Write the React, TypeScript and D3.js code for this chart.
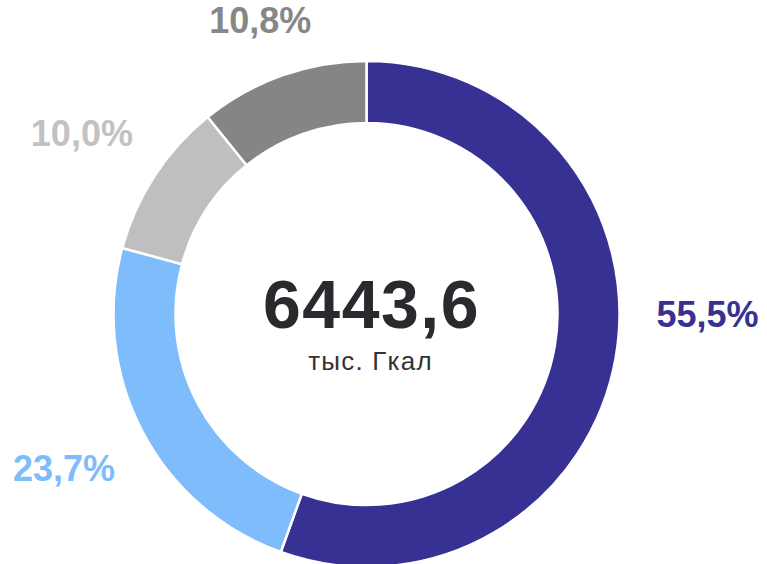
import React from "react";
import * as d3 from "d3";

const categories = ["A", "B", "C", "D"];
const shares = [55.5, 23.7, 10.0, 10.8];
const labels = ["55,5%", "23,7%", "10,0%", "10,8%"];
const sliceColors = ["#363192", "#7fbcfb", "#bfbfbf", "#858585"];
const labelColors = ["#363192", "#7fbcfb", "#c2c2c2", "#878787"];
const totalValue = "6443,6";
const totalUnit = "тыс. Гкал";

const W = 767;
const H = 564;
const CX = 366.5;
const CY = 314;
const R = 253;
const RI = 191;
const LABEL_DX = 290;
const LABEL_DY = 282;
const FONT = "'Liberation Sans', Arial, sans-serif";

export default function App() {
  const pie = d3
    .pie<number>()
    .sort(null)
    .value((d) => d)
    .startAngle(0)
    .endAngle(2 * Math.PI);
  const arcs = pie(shares);
  const arc = d3.arc<d3.PieArcDatum<number>>().innerRadius(RI).outerRadius(R);

  const labelPos = (a: d3.PieArcDatum<number>, text: string) => {
    const mid = (a.startAngle + a.endAngle) / 2;
    let ang: number;
    if (mid < Math.PI) {
      ang = (Math.max(a.startAngle, 0) + Math.min(a.endAngle, Math.PI)) / 2;
    } else {
      ang = (Math.max(a.startAngle, Math.PI) + Math.min(a.endAngle, 2 * Math.PI)) / 2;
    }
    const ux = Math.sin(ang);
    const uy = -Math.cos(ang);
    const fs = 36;
    const w = text.length * 0.567 * fs;
    const h = 0.72 * fs;
    const ext = Math.abs(ux) * (w / 2) + Math.abs(uy) * (h / 2);
    return {
      x: CX + (LABEL_DX + ext) * ux,
      y: CY + (LABEL_DY + ext) * uy + h / 2,
    };
  };

  return (
    <svg
      width={W}
      height={H}
      style={{ position: "absolute", left: 0, top: 0, background: "#fff" }}
    >
      <g transform={`translate(${CX},${CY})`}>
        {arcs.map((a, i) => (
          <path
            key={categories[i]}
            d={arc(a) || ""}
            fill={sliceColors[i]}
            stroke="#fff"
            strokeWidth={2.5}
          />
        ))}
      </g>
      {arcs.map((a, i) => {
        const p = labelPos(a, labels[i]);
        return (
          <text
            key={"l" + i}
            x={p.x}
            y={p.y}
            textAnchor="middle"
            fontFamily={FONT}
            fontWeight="bold"
            fontSize={36}
            fill={labelColors[i]}
          >
            {labels[i]}
          </text>
        );
      })}
      <text
        x={CX + 5}
        y={328}
        textAnchor="middle"
        fontFamily={FONT}
        fontWeight="bold"
        fontSize={68}
        letterSpacing={1.5}
        fill="#2a2a2e"
      >
        {totalValue}
      </text>
      <text
        x={CX + 4}
        y={370}
        textAnchor="middle"
        fontFamily={FONT}
        fontSize={26}
        letterSpacing={1.2}
        fill="#333"
      >
        {totalUnit}
      </text>
    </svg>
  );
}
